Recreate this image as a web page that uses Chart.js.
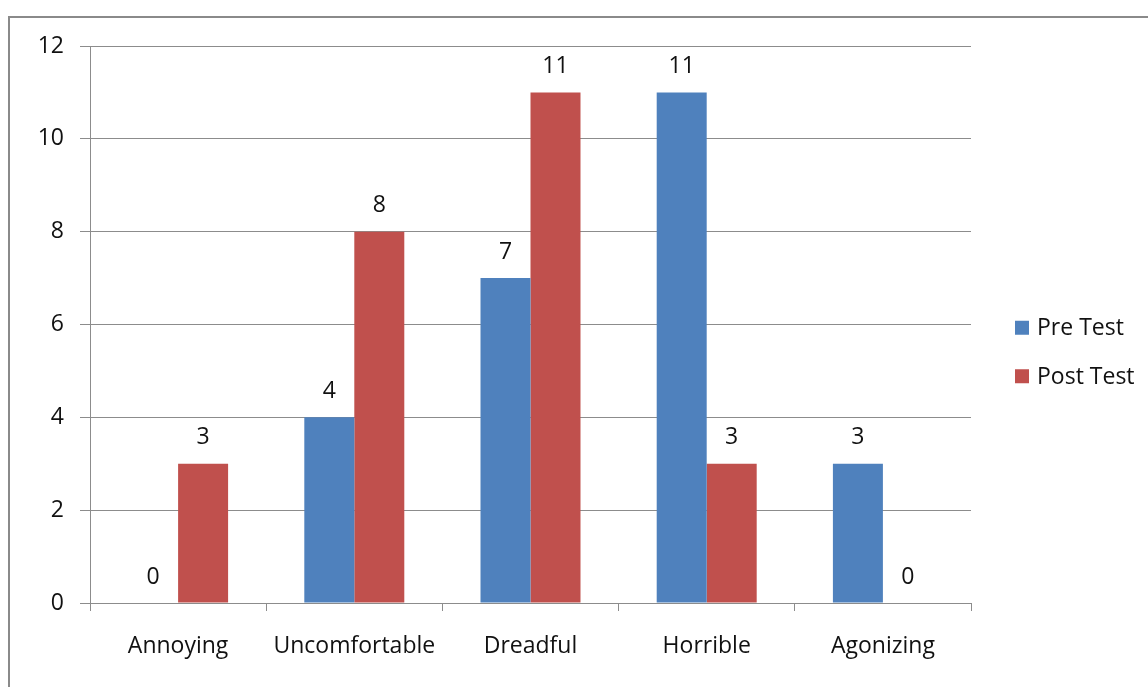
<!DOCTYPE html>
<html>
<head>
<meta charset="utf-8">
<script src="https://cdn.jsdelivr.net/npm/chart.js@4"></script>
<style>
  html, body { margin: 0; padding: 0; background: #fff; overflow: hidden; }
  .frame {
    position: absolute; left: 8px; top: 16px;
    width: 1300px; height: 800px;
    border: 2px solid #8a8a8a;
  }
  #chart { position: absolute; left: 0; top: 0; }
</style>
</head>
<body>
<div class="frame"></div>
<canvas id="chart" width="1148" height="687"></canvas>
<script>
const categories = ['Annoying', 'Uncomfortable', 'Dreadful', 'Horrible', 'Agonizing'];
const preTest = [0, 4, 7, 11, 3];
const postTest = [3, 8, 11, 3, 0];
const seriesNames = ['Pre Test', 'Post Test'];
const yTicks = { min: 0, max: 12, step: 2 };

const textColor = '#111111';
const lineColor = '#8c8c8c';
const font = { family: '"Open Sans", sans-serif', size: 23 };

// numbers above every bar
const valueLabels = {
  id: 'valueLabels',
  afterDatasetsDraw(chart) {
    const ctx = chart.ctx;
    ctx.save();
    ctx.font = `${font.size}px ${font.family}`;
    ctx.fillStyle = textColor;
    ctx.textAlign = 'center';
    ctx.textBaseline = 'middle';
    chart.data.datasets.forEach((ds, i) => {
      chart.getDatasetMeta(i).data.forEach((bar, j) => {
        ctx.fillText(String(ds.data[j]), bar.x, bar.y - 26);
      });
    });
    ctx.restore();
  }
};

// legend on the right, Excel style
const sideLegend = {
  id: 'sideLegend',
  afterDraw(chart) {
    const ctx = chart.ctx;
    const area = chart.chartArea;
    const x = area.right + 44;
    const mid = 352;
    ctx.save();
    ctx.font = `${font.size}px ${font.family}`;
    ctx.textAlign = 'left';
    ctx.textBaseline = 'middle';
    chart.data.datasets.forEach((ds, i) => {
      const y = mid + (i - 0.5) * 48.5;
      ctx.fillStyle = ds.backgroundColor;
      ctx.fillRect(x, y - 7, 14, 14);
      ctx.fillStyle = textColor;
      ctx.fillText(ds.label, x + 22, y + 1);
    });
    ctx.restore();
  }
};

new Chart(document.getElementById('chart'), {
  type: 'bar',
  data: {
    labels: categories,
    datasets: [
      { label: seriesNames[0], data: preTest, backgroundColor: '#4F81BD' },
      { label: seriesNames[1], data: postTest, backgroundColor: '#C0504D' },
    ],
  },
  options: {
    responsive: false,
    animation: false,
    categoryPercentage: 0.5675,
    barPercentage: 1,
    layout: { padding: { left: 0, right: 177, top: 46, bottom: 24 } },
    plugins: {
      legend: { display: false },
      tooltip: { enabled: false },
    },
    scales: {
      x: {
        grid: { drawOnChartArea: false, tickLength: 8, color: lineColor, offset: true },
        border: { color: lineColor, width: 1 },
        ticks: { color: textColor, font, padding: 22, maxRotation: 0 },
        afterFit: (s) => { s.height = 60; },
      },
      y: {
        min: yTicks.min,
        max: yTicks.max,
        grid: { color: lineColor, tickLength: 10 },
        border: { color: lineColor, width: 1 },
        ticks: { stepSize: yTicks.step, color: textColor, font, padding: 16 },
        afterFit: (s) => { s.width = 90; },
      },
    },
  },
  plugins: [valueLabels, sideLegend],
});
</script>
</body>
</html>
